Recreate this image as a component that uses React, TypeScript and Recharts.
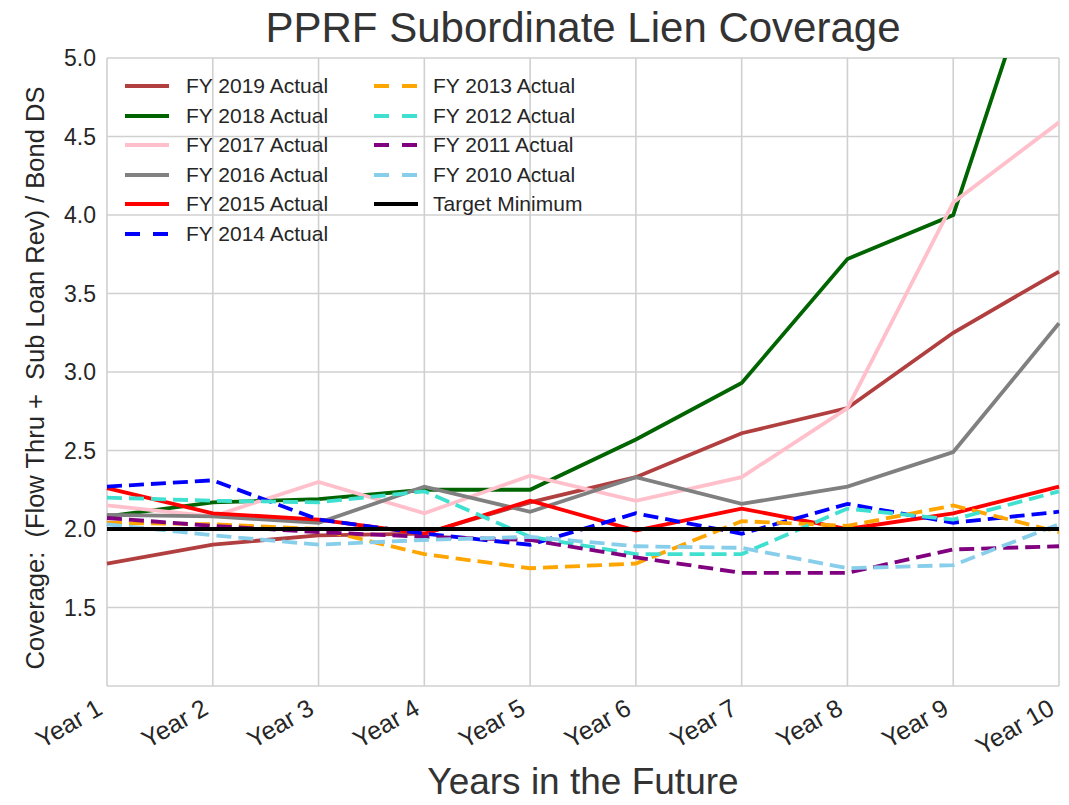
import React from 'react';
import { LineChart, Line, XAxis, YAxis, CartesianGrid } from 'recharts';

const years = ['Year 1', 'Year 2', 'Year 3', 'Year 4', 'Year 5', 'Year 6', 'Year 7', 'Year 8', 'Year 9', 'Year 10'];

const fy2019 = [1.78, 1.9, 1.96, 1.97, 2.17, 2.33, 2.61, 2.77, 3.25, 3.64];
const fy2018 = [2.08, 2.17, 2.19, 2.25, 2.25, 2.57, 2.93, 3.72, 4.0, 6.04];
const fy2017 = [2.15, 2.08, 2.3, 2.1, 2.34, 2.18, 2.33, 2.77, 4.08, 4.59];
const fy2016 = [2.09, 2.08, 2.04, 2.27, 2.11, 2.33, 2.16, 2.27, 2.49, 3.31];
const fy2015 = [2.26, 2.1, 2.06, 1.97, 2.18, 1.99, 2.13, 2.0, 2.1, 2.27];
const fy2014 = [2.27, 2.31, 2.06, 1.97, 1.9, 2.1, 1.97, 2.16, 2.04, 2.11];
const fy2013 = [2.04, 2.03, 2.0, 1.84, 1.75, 1.78, 2.05, 2.02, 2.15, 1.98];
const fy2012 = [2.2, 2.18, 2.17, 2.24, 1.95, 1.84, 1.84, 2.13, 2.06, 2.24];
const fy2011 = [2.07, 2.02, 1.98, 1.95, 1.93, 1.82, 1.72, 1.72, 1.87, 1.89];
const fy2010 = [2.03, 1.96, 1.9, 1.93, 1.95, 1.89, 1.88, 1.75, 1.77, 2.03];
const target = [2, 2, 2, 2, 2, 2, 2, 2, 2, 2];

const yTicks = [1, 1.5, 2, 2.5, 3, 3.5, 4, 4.5, 5];

// name, values, colour, dashed
const series: [string, number[], string, boolean][] = [
  ['FY 2019 Actual', fy2019, '#b23f3f', false],
  ['FY 2018 Actual', fy2018, '#006400', false],
  ['FY 2017 Actual', fy2017, '#ffc0cb', false],
  ['FY 2016 Actual', fy2016, '#808080', false],
  ['FY 2015 Actual', fy2015, '#ff0000', false],
  ['FY 2014 Actual', fy2014, '#0000ff', true],
  ['FY 2013 Actual', fy2013, '#ffa500', true],
  ['FY 2012 Actual', fy2012, '#40e0d0', true],
  ['FY 2011 Actual', fy2011, '#800080', true],
  ['FY 2010 Actual', fy2010, '#87ceeb', true],
  ['Target Minimum', target, '#000000', false],
];

const data = years.map((y, i) => {
  const row: Record<string, string | number> = { year: y };
  series.forEach(([name, vals]) => { row[name] = vals[i]; });
  return row;
});

const FONT = '"Liberation Sans", Arial, sans-serif';
const TXT = '#262626';

const XTick = (props: any) => {
  const { x, y, payload } = props;
  const ax = x - 3;
  const ay = y + 25;
  return (
    <text x={ax} y={ay} textAnchor="end" transform={`rotate(-30, ${ax}, ${ay})`}
      fontSize={25} fontFamily={FONT} fill={TXT}>
      {payload.value}
    </text>
  );
};

const LegendBox = () => {
  const col1 = series.slice(0, 6);
  const col2 = series.slice(6);
  const col = (items: typeof series, left: number, textLeft: number) =>
    items.map(([name, , color, dashed], i) => (
      <div key={name} style={{ position: 'absolute', left, top: 86 + i * 29.5 - 14, height: 28, width: 240 }}>
        <svg width={48} height={28} style={{ position: 'absolute', left: 0, top: 0 }}>
          <line x1={2} y1={14} x2={46} y2={14} stroke={color} strokeWidth={4}
            strokeDasharray={dashed ? '15 13' : undefined} />
        </svg>
        <span style={{ position: 'absolute', left: textLeft - left, top: 1, fontSize: 21, lineHeight: '26px', color: TXT, fontFamily: FONT, whiteSpace: 'pre' }}>
          {name}
        </span>
      </div>
    ));
  return (
    <>
      {col(col1, 123, 186)}
      {col(col2, 372, 433)}
    </>
  );
};

export default function App() {
  return (
    <div style={{ position: 'absolute', left: 0, top: 0, width: 1069, height: 805, background: '#fff', overflow: 'hidden' }}>
      <LineChart width={1069} height={805} data={data}
        margin={{ top: 58, right: 10, left: 7, bottom: 59 }}>
        <CartesianGrid stroke="#d0d0d0" strokeWidth={1.6} />
        <XAxis dataKey="year" scale="point" padding={{ left: 0, right: 0 }} height={60}
          axisLine={false} tickLine={false} tickSize={0} tick={<XTick />} interval={0} />
        <YAxis type="number" domain={[1, 5]} ticks={yTicks} allowDataOverflow width={100}
          axisLine={false} tickLine={false} tickSize={0} tickMargin={11}
          tickFormatter={(v: number) => (v === 1 ? '' : v.toFixed(1))}
          tick={{ fontSize: 23, fontFamily: FONT, fill: TXT }} />
        {series.map(([name, , color, dashed]) => (
          <Line key={name} dataKey={name} stroke={color}
            strokeWidth={name === 'Target Minimum' ? 4 : 3.8}
            strokeDasharray={dashed ? '15 7' : undefined}
            dot={false} activeDot={false} isAnimationActive={false} />
        ))}
      </LineChart>
      <div style={{ position: 'absolute', left: 0, width: 1166, top: 4, textAlign: 'center', fontSize: 42, fontFamily: FONT, color: '#333', lineHeight: '48px' }}>
        PPRF Subordinate Lien Coverage
      </div>
      <div style={{ position: 'absolute', left: 0, width: 1166, top: 761, textAlign: 'center', fontSize: 37, fontFamily: FONT, color: '#333', lineHeight: '42px' }}>
        Years in the Future
      </div>
      <div style={{ position: 'absolute', left: 35, top: 378, width: 0, height: 0 }}>
        <div style={{ position: 'absolute', left: 0, top: 0, transform: 'translate(-50%, -50%) rotate(-90deg)', fontSize: 25.5, fontFamily: FONT, color: TXT, whiteSpace: 'pre', lineHeight: '30px' }}>
          {'Coverage:  (Flow Thru +  Sub Loan Rev) / Bond DS'}
        </div>
      </div>
      <LegendBox />
    </div>
  );
}
